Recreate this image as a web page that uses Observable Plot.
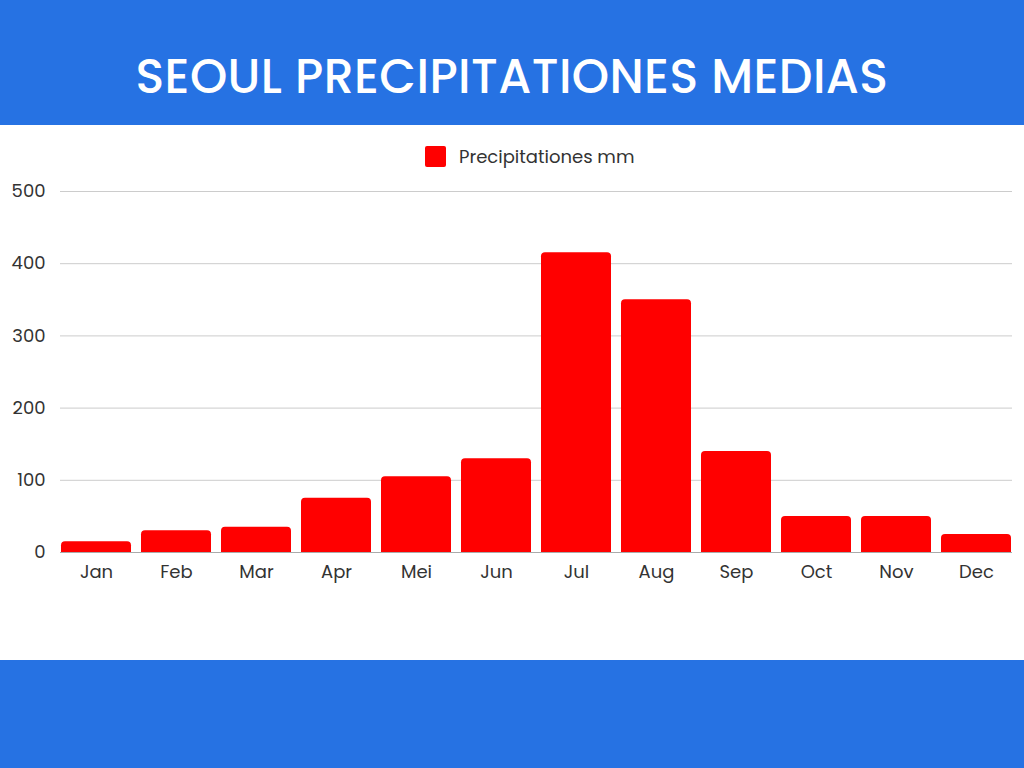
<!DOCTYPE html>
<html>
<head>
<meta charset="utf-8">
<script src="https://cdn.jsdelivr.net/npm/d3@7"></script>
<script src="https://cdn.jsdelivr.net/npm/@observablehq/plot@0.6"></script>
<style>
  html, body { margin: 0; padding: 0; width: 1024px; height: 768px; overflow: hidden; background: #fff; font-family: "Poppins", Inter, "Open Sans", sans-serif; }
  #header { position: absolute; left: 0; top: 0; width: 1024px; height: 97px; padding-top: 28px; background: #2672E3; color: #fff; display: flex; align-items: center; justify-content: center; font-size: 47.5px; font-weight: 500; letter-spacing: 0.4px; box-sizing: content-box; }
  #footer { position: absolute; left: 0; top: 660px; width: 1024px; height: 108px; background: #2672E3; }
  #legend { position: absolute; left: 425px; top: 145px; height: 22px; display: flex; align-items: center; font-size: 18px; color: #333; }
  #legend .sw { width: 21px; height: 21px; background: #ff0000; border-radius: 2px; margin-right: 13px; }
  #chart { position: absolute; left: 0; top: 170px; }
</style>
</head>
<body>
<div id="header">SEOUL PRECIPITATIONES MEDIAS</div>
<div id="legend"><div class="sw"></div><span>Precipitationes mm</span></div>
<div id="chart"></div>
<div id="footer"></div>
<script>
const months = ["Jan", "Feb", "Mar", "Apr", "Mei", "Jun", "Jul", "Aug", "Sep", "Oct", "Nov", "Dec"];
const precipitation = [15, 30, 35, 75, 105, 130, 415, 350, 140, 50, 50, 25];
const yTicks = [0, 100, 200, 300, 400, 500];

const data = months.map((m, i) => ({month: m, value: precipitation[i]}));

const plot = Plot.plot({
  width: 1024,
  height: 490,
  marginLeft: 60,
  marginRight: 12,
  marginTop: 21,
  marginBottom: 108,
  style: {fontFamily: "Poppins, Inter, 'Open Sans', sans-serif", fontSize: "18px", color: "#333", background: "transparent"},
  x: {domain: months, paddingInner: 0.12, paddingOuter: 0.01, label: null},
  y: {domain: [0, 500], ticks: yTicks, label: null},
  marks: [
    Plot.ruleY(yTicks.filter(d => d > 0), {stroke: "#cccccc", strokeWidth: 1}),
    Plot.ruleY([0], {stroke: "#aaaaaa", strokeWidth: 1}),
    Plot.barY(data, {x: "month", y: "value", fill: "#ff0000", rx: 4}),
    Plot.barY(data, {x: "month", y1: 0, y2: d => Math.min(d.value, 8), fill: "#ff0000"}),
    Plot.axisX({tickSize: 0, tickPadding: 13, fontSize: 18, fill: "#333", label: null}),
    Plot.axisY({ticks: yTicks, tickSize: 0, tickPadding: 15, fontSize: 18, fill: "#333", label: null})
  ]
});
document.getElementById("chart").appendChild(plot);
</script>
</body>
</html>
